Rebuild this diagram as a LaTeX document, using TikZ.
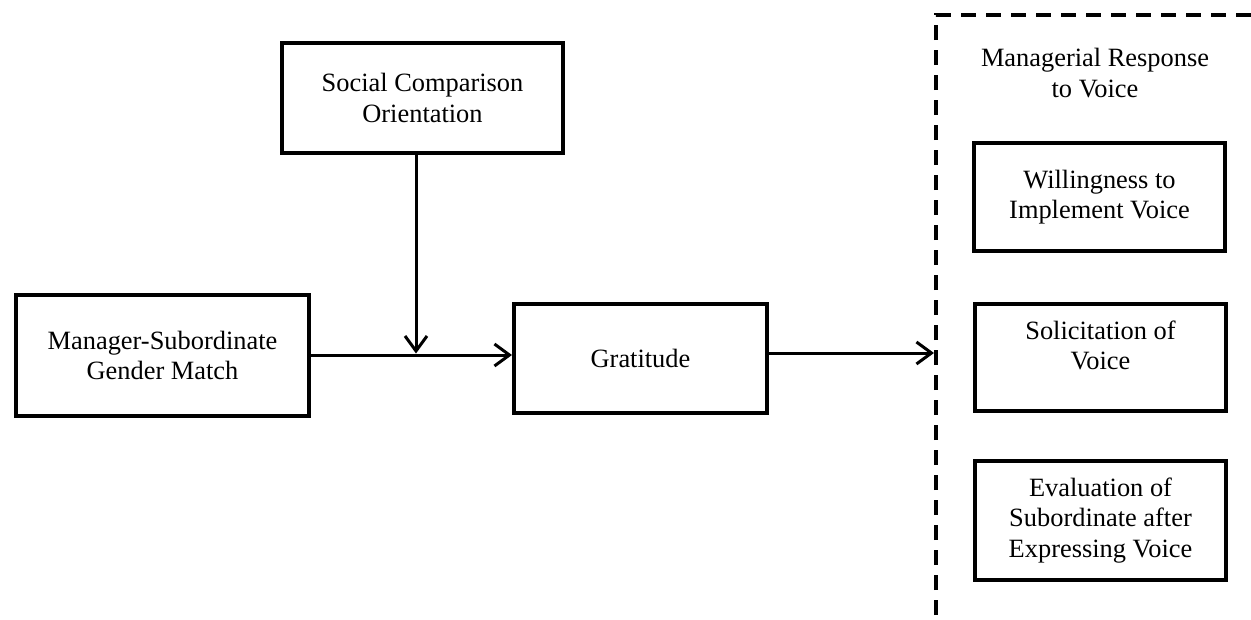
\documentclass[tikz,border=0pt]{standalone}
\usepackage{fontspec}
\setmainfont{Liberation Serif}
\usetikzlibrary{arrows.meta}
\tikzset{
  box/.style={draw, line width=4pt, rectangle, align=center, inner sep=0pt,
              font=\fontsize{26.4}{30.5}\selectfont},
  txt/.style={align=center, inner sep=0pt, font=\fontsize{26.4}{30.5}\selectfont},
  conn/.style={line width=3pt, -{Straight Barb[length=15pt,width=22pt,line width=3pt]}},
  dashbox/.style={line width=4pt, dash pattern=on 15pt off 10pt}
}
\begin{document}
\begin{tikzpicture}[x=1pt,y=-1pt]
\useasboundingbox (0,0) rectangle (1251,619);
\clip (0,0) rectangle (1251,619);
\fill[white] (0,0) rectangle (1251,619);
% boxes
\node[box, minimum width=281pt, minimum height=110pt] (soc) at (422.5,98) {Social Comparison\\Orientation};
\node[box, minimum width=293pt, minimum height=121pt] (mgr) at (162.5,355.5) {Manager-Subordinate\\Gender Match};
\node[box, minimum width=253pt, minimum height=109pt] (grat) at (640.5,358.5) {Gratitude};
\node[box, minimum width=251pt, minimum height=108pt] (will) at (1099.5,197) {Willingness to\\Implement Voice};
\node[box, minimum width=251pt, minimum height=107pt] (sol) at (1100.5,357.5) {};
\node[txt] (soltxt) at ([yshift=12pt]sol.center) {Solicitation of\\Voice};
\node[box, minimum width=251pt, minimum height=119pt] (eval) at (1100.5,520.5) {Evaluation of\\Subordinate after\\Expressing Voice};
\node[txt] (mrv) at (1095,73) {Managerial Response\\to Voice};
% dashed group outline
\coordinate (dbot) at (936,640);
\coordinate (dcorner) at (936,15);
\coordinate (dright) at (1270,15);
\draw[dashbox] (dbot) -- (dcorner) -- (dright);
% connectors
\coordinate (join) at (416,355);
\coordinate (grin) at (936,353);
\draw[line width=3pt] (mgr.east |- join) -- (join);
\draw[conn] (join) -- (grat.west |- join);
\draw[conn] (soc.south -| join) -- ([yshift=1.5pt]join);
\draw[conn] (grat.east |- grin) -- ([xshift=-2pt]grin);
\end{tikzpicture}
\end{document}
